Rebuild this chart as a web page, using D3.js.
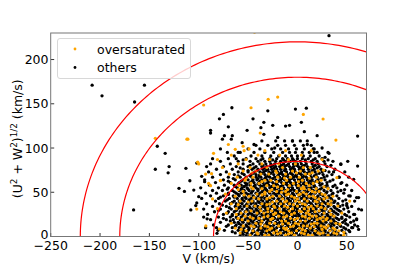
<!DOCTYPE html>
<html><head><meta charset="utf-8">
<script src="https://cdn.jsdelivr.net/npm/d3@7"></script>
<style>body{margin:0;background:#fff}svg{display:block}text{font-family:"DejaVu Sans",sans-serif}</style>
</head><body>
<svg id="c" width="407" height="271"></svg>
<script>
const xTicks=[-250,-200,-150,-100,-50,0,50];
const yTicks=[0,50,100,150,200];
const circleRadii=[85,180,220];
const legendLabels=["oversaturated","others"];
const seriesColors=["#ffa500","#000000"];

// dense core of "others", by rows of (U^2+W^2)^1/2
const blackRowR=[1,4,7,10,13,16,19,22,25,28,31,34,37,40,43,46,49,52,55,58,61,64,67,70,73,76,79,82,85,88,91,95,99,103,108];
const blackRowV=[
[-58,-52,-48,-43,-39,-34,-30,-25,-21,-16,-12,-7,-3,2,6,11,15,20,24,29,33,38,44],
[-63,-56,-51,-46,-41,-37,-32,-28,-23,-19,-14,-10,-5,-1,4,8,13,17,22,26,31,36,41,48],
[-74,-60,-55,-50,-45,-40,-36,-31,-26,-22,-17,-13,-8,-3,1,6,10,15,19,24,28,33,38,45,52],
[-82,-66,-59,-54,-49,-44,-39,-35,-30,-25,-21,-16,-12,-7,-2,3,7,12,16,21,26,30,35,40,47,56],
[-85,-70,-62,-57,-52,-47,-43,-38,-33,-29,-24,-19,-15,-10,-5,-1,4,9,13,18,22,27,32,37,43,51,58],
[-78,-64,-60,-55,-50,-45,-41,-36,-31,-27,-22,-18,-13,-8,-4,1,6,10,15,20,24,29,34,39,46,54],
[-88,-72,-65,-58,-53,-48,-44,-39,-34,-30,-25,-20,-16,-11,-6,-2,3,8,12,17,22,26,31,36,42,49,60],
[-80,-68,-62,-57,-52,-47,-42,-38,-33,-28,-24,-19,-14,-10,-5,0,4,9,14,18,23,28,33,38,45,53],
[-91,-75,-66,-60,-55,-50,-46,-41,-36,-32,-27,-22,-18,-13,-8,-4,1,6,11,15,20,25,30,35,41,48,57],
[-84,-70,-64,-58,-53,-48,-44,-39,-34,-29,-25,-20,-15,-11,-6,-1,3,8,13,17,22,27,32,37,44,52],
[-95,-78,-67,-61,-56,-51,-46,-42,-37,-32,-28,-23,-18,-14,-9,-4,0,5,10,14,19,24,29,34,40,47,62],
[-86,-72,-63,-58,-54,-49,-44,-40,-35,-30,-26,-21,-16,-12,-7,-2,2,7,12,16,21,26,31,37,43,55],
[-92,-79,-68,-62,-56,-51,-47,-42,-37,-33,-28,-23,-19,-14,-9,-5,0,5,9,14,19,24,29,34,41,50],
[-83,-73,-64,-59,-54,-49,-45,-40,-35,-31,-26,-21,-17,-12,-7,-3,2,7,11,16,21,26,31,38,46,58],
[-97,-80,-69,-61,-56,-52,-47,-42,-38,-33,-28,-24,-19,-14,-10,-5,0,4,9,14,18,23,28,34,42],
[-88,-75,-65,-59,-54,-49,-45,-40,-35,-31,-26,-21,-17,-12,-7,-3,2,7,11,16,21,26,32,40,52],
[-93,-82,-70,-62,-57,-52,-47,-42,-38,-33,-28,-24,-19,-14,-10,-5,0,4,9,14,18,23,29,36,47],
[-86,-76,-66,-59,-54,-49,-45,-40,-35,-31,-26,-21,-17,-12,-7,-3,2,7,11,16,21,27,34,44,55],
[-98,-80,-70,-61,-56,-51,-46,-42,-37,-33,-28,-23,-19,-14,-9,-5,0,5,9,14,19,25,31,40],
[-89,-74,-64,-57,-52,-48,-43,-38,-34,-29,-24,-20,-15,-10,-6,-1,3,8,12,17,23,30,38,50],
[-83,-68,-59,-53,-48,-44,-39,-35,-30,-25,-21,-16,-11,-7,-2,2,7,11,16,22,30,45],
[-94,-75,-63,-55,-50,-45,-41,-36,-31,-27,-22,-17,-13,-8,-3,1,6,10,15,21,28,36],
[-86,-70,-58,-52,-46,-42,-37,-32,-28,-23,-18,-14,-9,-4,0,5,9,14,20,27,42],
[-78,-64,-54,-47,-42,-38,-33,-29,-24,-19,-15,-10,-5,-1,4,8,13,19,26,35],
[-90,-72,-60,-50,-43,-38,-34,-29,-25,-20,-16,-11,-6,-2,3,7,12,18,25,32,48],
[-82,-66,-55,-46,-40,-35,-30,-26,-21,-17,-12,-7,-3,2,6,11,17,24,38],
[-75,-62,-50,-42,-36,-31,-27,-22,-18,-13,-8,-4,1,5,10,16,22,30],
[-88,-68,-55,-45,-38,-32,-27,-23,-18,-14,-9,-4,0,4,9,15,21,28,44],
[-78,-60,-48,-40,-33,-28,-22,-17,-12,-7,-2,3,8,14,20,27,36],
[-70,-52,-42,-35,-28,-21,-15,-10,-5,0,5,11,18,25],
[-64,-47,-36,-27,-19,-12,-6,0,6,13,22],
[-58,-44,-33,-24,-15,-8,-2,5,12,20,31],
[-50,-38,-26,-17,-9,-1,7,16],
[-42,-30,-20,-12,-3,6,14],
[-36,-22,-13,-5,3,10]
];
const blackRowR2=[2.5,5.5,8.5,11.5,14.5,17.5,20.5,23.5,26.5,29.5,32.5,35.5,38.5,41.5,44.5,47.5,50.5,53.5,56.5,59.5,62.5,65.5,68.5,71.5,74.5,77.5,80.5,86.5];
const blackRowV2=[
[-55,-47,-41,-36,-27,-19,-10,-4,3,9,18,27,35,41],
[-66,-53,-44,-35,-29,-21,-11,-6,5,11,20,28,38,53],
[-57,-49,-38,-33,-24,-15,-5,2,13,22,27,36,49],
[-72,-63,-51,-42,-33,-27,-18,-9,0,10,19,24,34,44,61],
[-59,-49,-39,-31,-21,-12,-3,7,16,25,35,41,49],
[-68,-56,-47,-37,-28,-15,-9,3,12,22,27,37,57],
[-75,-61,-50,-42,-32,-23,-17,-8,6,14,20,33,40,45],
[-66,-55,-44,-35,-26,-16,-2,2,11,21,31,36,50],
[-71,-58,-48,-39,-30,-20,-10,-1,9,18,27,39],
[-80,-62,-51,-41,-31,-22,-13,-4,6,15,25,35,42],
[-69,-59,-48,-39,-33,-20,-11,-2,8,18,27,38,51],
[-76,-60,-52,-43,-33,-24,-14,-4,5,15,23,33,46],
[-66,-58,-45,-39,-30,-17,-10,2,12,21,27,37],
[-71,-56,-49,-37,-29,-20,-9,-1,8,17,25,35,49],
[-78,-64,-53,-44,-36,-26,-16,-7,6,12,20,31],
[-70,-60,-50,-40,-33,-22,-13,-4,5,13,24,35],
[-64,-55,-46,-36,-29,-19,-9,-1,10,19,30,41],
[-71,-57,-50,-40,-32,-23,-15,-5,3,13,23],
[-63,-54,-44,-36,-26,-17,-8,1,12,17,28,36],
[-60,-51,-40,-32,-22,-12,-4,6,14,25],
[-70,-57,-46,-38,-28,-19,-9,4,13,19,33],
[-65,-53,-40,-33,-25,-15,-6,3,11,24],
[-60,-48,-39,-30,-20,-12,-2,7,17,30],
[-56,-45,-36,-27,-17,-7,2,10,22],
[-50,-41,-32,-23,-13,-4,5,15,28],
[-58,-44,-33,-24,-15,-5,3,13,20],
[-48,-35,-25,-16,-11,-1,7,18,34],
[-55,-37,-25,-14,-4,8,16,31]
];
// scattered "others"
const blackSparse=[[32,227],[-208,171],[-198,159],[-155,171],[-165,152],[-166,30],[-142,102],[-134,94],[-144,76],[-130,79],[-131,72],
[-120,54.5],[-114.5,51],[-105,52.5],[-109,63],[-113,77],[-102,38],[-103,35],[-95,22],[-91.5,20],[-93,10],[-80.5,7],[-81.5,3.6],
[-88,120],[-75,138],[-79,133],[-70,124],[-88,117],[-74,114],[-66,114],[-76,110],[-67,110],[-78,99],[-71,95],[-102,83],[-92,79],[-94,62],
[-66.4,145.5],[-30,142],[-2,144],[9,145],[-45,133],[-34,129],[-51,120],[-25,125.6],[-12,124.8],[-8,125.6],[4,129],[-37,123],[-34,115.5],
[7,118.5],[20,114],[61,113.5],[44,81.5],[51,85],[61,79.6],[28,89.5],[17,99],[17,95],[36.6,73],[42.4,67],[52,67],[57,64.6],[47.8,53],
[53.5,45.8],[60,44],[62,44],[65,30],[60,20],[55,10],[62,8],[-56,106],[-44,104],[-20,112],[-5,108],[10,104],[25,100],[-60,95],[-100,45],
[-108,30],[-97,68],[-86,88],[-62,88],[-23,100],[32,94],[44,60],[50,35],[58,25],[48,18]];

// "oversaturated"
const orangeRowR=[1.5,4,6.5,9.5,12,15,17.5,20.5,23,26.5,29,31.5,34.5,37,40,42.5,45.5,48,51,54,57.5,60,63.5,67,70.5,74,78,82,87,92,97];
const orangeRowV=[
[-48,-33,-29,-12,-3,11,15,31,47],
[-58,-41,-24,-17,-6,4,21,26,37],
[-52,-45,-31,-21,-9,-1,8,18,33,42],
[-63,-37,-26,-14,-11,2,13,29,36],
[-55,-47,-33,-19,-4,6,10,24,31],
[-67,-42,-28,-23,-9,-2,17,20,39],
[-50,-36,-16,-12,3,8,26,34],
[-60,-45,-39,-25,-7,0,12,23,30],
[-53,-30,-19,-11,5,15,19,37],
[-72,-57,-41,-34,-22,-14,-3,9,27,45],
[-47,-37,-26,-8,2,11,22,33],
[-81,-62,-30,-18,-5,7,16,28],
[-51,-43,-24,-13,0,14,20,41],
[-67,-36,-28,-17,-8,5,25,31],
[-58,-46,-21,-11,-2,10,18,34],
[-86,-39,-31,-15,0,7,22,27],
[-63,-49,-25,-18,-6,12,16,36],
[-73,-41,-33,-9,3,9,25],
[-55,-28,-21,-12,-1,15,22],
[-45,-36,-16,4,7,19,31],
[-88,-59,-31,-24,-8,1,12],
[-67,-47,-39,-14,-4,9,16],
[-78,-53,-33,-27,-11,5,24],
[-61,-45,-20,-7,2,19],
[-93,-69,-37,-29,-12,8,12],
[-55,-42,-22,-5,3,21],
[-76,-48,-31,-15,6,13],
[-100,-60,-36,-19,-2],
[-81,-52,-28,-9,25],
[-67,-40,-18,4],
[-54,-33,-12]
];
const orangeRowR2=[3,8,11,14,19,22,25,28,33,36,39,44,47,50,53,56,62,66,72];
const orangeRowV2=[
[-40,-20,-9,7,23,40],
[-57,-28,-12,5,25,38],
[-44,-30,-7,17,27],
[-37,-15,1,14,43],
[-56,-27,-3,20,29],
[-48,-34,-14,8,26],
[-62,-24,-6,12,34],
[-52,-30,-17,4,18],
[-38,-23,-10,11,24],
[-60,-31,-4,8,34],
[-50,-25,-13,2,20],
[-44,-28,-3,18,30],
[-54,-36,-11,1,28],
[-33,-16,6,18],
[-60,-26,-10,12],
[-47,-20,6,27],
[-36,-21,1,20],
[-52,-13,12],
[-46,-21,-1,15]
];
const orangeSparse=[[-144,111],[-112,110],[-111,110],[-101,84],[-87,71],[-78,63],[-90,60],[-102,31],[-92.8,12],[-79,8.5],[-70,104],
[-55,102],[-63,98.5],[-49,99],[-85,94],[-29.6,155],[-20,157.6],[-43.5,231],[-95,148.6],[-47,145.5],[6,138],[26,132.8],[39,109],
[-37.7,117],[14,97],[26.5,75],[40,66.5],[47,4.7],[53,40]];

const xDomain=[-250,70], yDomain=[0,230];
const L=50.7,R=366.5,T=33,B=236.5;
const x=d3.scaleLinear().domain(xDomain).range([L,R]);
const y=d3.scaleLinear().domain(yDomain).range([B,T]);
const svg=d3.select("#c");
svg.append("defs").append("clipPath").attr("id","clip").append("rect")
  .attr("x",L).attr("y",T).attr("width",R-L).attr("height",B-T);

const flatten=(rs,vs)=>rs.flatMap((r,i)=>vs[i].map(v=>[v,r]));
const blackPts=flatten(blackRowR,blackRowV).concat(flatten(blackRowR2,blackRowV2)).concat(blackSparse);
const orangePts=flatten(orangeRowR,orangeRowV).concat(flatten(orangeRowR2,orangeRowV2)).concat(orangeSparse);

const plot=svg.append("g").attr("clip-path","url(#clip)");
plot.selectAll("circle.b").data(blackPts).join("circle").attr("class","b")
  .attr("cx",d=>x(d[0])).attr("cy",d=>y(d[1])).attr("r",1.65).attr("fill",seriesColors[1]);
plot.selectAll("circle.o").data(orangePts).join("circle").attr("class","o")
  .attr("cx",d=>x(d[0])).attr("cy",d=>y(d[1])).attr("r",1.6).attr("fill",seriesColors[0]);

const angles=d3.range(0,181,1).map(a=>a*Math.PI/180);
const line=d3.line().x(d=>x(d[0])).y(d=>y(d[1]));
circleRadii.forEach(r=>{
  plot.append("path").attr("d",line(angles.map(a=>[r*Math.cos(a),r*Math.sin(a)])))
    .attr("fill","none").attr("stroke","#ff0000").attr("stroke-width",1.2);
});

// axes
const ax=svg.append("g");
xTicks.forEach(t=>{
  ax.append("line").attr("x1",x(t)).attr("x2",x(t)).attr("y1",B).attr("y2",B-3.5).attr("stroke","#000").attr("stroke-width",0.8);
  ax.append("text").attr("x",x(t)).attr("y",249.5).attr("text-anchor","middle").attr("font-size",12.5)
    .text(t<0?"\u2212"+Math.abs(t):String(t));
});
yTicks.forEach(t=>{
  ax.append("line").attr("x1",L).attr("x2",L+3.5).attr("y1",y(t)).attr("y2",y(t)).attr("stroke","#000").attr("stroke-width",0.8);
  ax.append("text").attr("x",48.5).attr("y",y(t)).attr("dy",t===0?"0.2em":"0.36em").attr("text-anchor","end").attr("font-size",12.5).text(t);
});
ax.append("rect").attr("x",L).attr("y",T).attr("width",R-L).attr("height",B-T)
  .attr("fill","none").attr("stroke","#777").attr("stroke-width",1);

svg.append("text").attr("x",(L+R)/2).attr("y",263).attr("text-anchor","middle").attr("font-size",12.5).text("V (km/s)");
const yl=svg.append("text").attr("transform",`translate(22,${(T+B)/2+4}) rotate(-90)`).attr("text-anchor","middle").attr("font-size",12.5);
yl.append("tspan").text("(U");
yl.append("tspan").attr("dy",-5).attr("font-size",8.8).text("2");
yl.append("tspan").attr("dy",5).text(" + W");
yl.append("tspan").attr("dy",-5).attr("font-size",8.8).text("2");
yl.append("tspan").attr("dy",5).text(")");
yl.append("tspan").attr("dy",-5).attr("font-size",8.8).text("1/2");
yl.append("tspan").attr("dy",5).text(" (km/s)");

// legend
const lg=svg.append("g");
lg.append("rect").attr("x",57.5).attr("y",38.5).attr("width",133).attr("height",40).attr("rx",2.5)
  .attr("fill","#fff").attr("fill-opacity",0.8).attr("stroke","#d8d8d8").attr("stroke-width",1);
legendLabels.forEach((s,i)=>{
  const yy=49+i*18.5;
  lg.append("circle").attr("cx",75).attr("cy",yy).attr("r",1.4).attr("fill",seriesColors[i]);
  lg.append("text").attr("x",97).attr("y",yy).attr("dy","0.36em").attr("font-size",12.5).text(s);
});
</script>
</body></html>
